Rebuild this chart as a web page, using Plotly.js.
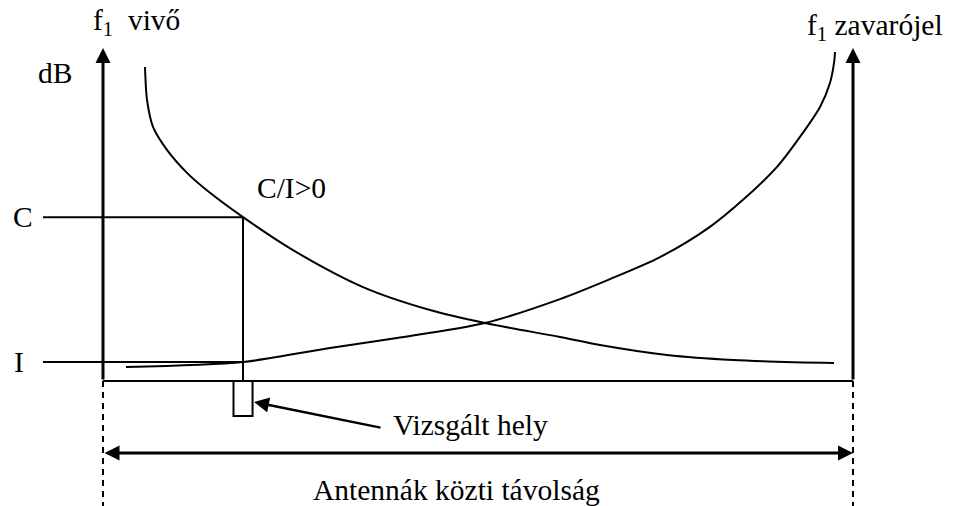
<!DOCTYPE html>
<html>
<head>
<meta charset="utf-8">
<script src="https://cdn.plot.ly/plotly-3.0.1.min.js"></script>
<style>
  html, body { margin: 0; padding: 0; background: #fff; }
  #chart { width: 953px; height: 506px; }
</style>
</head>
<body>
<div id="chart"></div>
<script>
// distance between antennas: 0 .. 100, level in dB: 0 .. 100 (arbitrary units)
const carrierX = [5.6, 5.87, 6.67, 8.53, 11.2, 14.27, 18.67, 25.33, 34.67, 43.6, 50.93, 60.93, 66.27, 75.2, 84.0, 97.47];
const carrierY = [94.3, 84.4, 76.3, 69.4, 62.5, 56.5, 49.2, 39.3, 28.2, 21.3, 17.4, 13.2, 10.8, 7.8, 6.3, 5.4];

const interfX = [3.07, 18.67, 30.27, 39.2, 50.93, 60.93, 67.6, 74.27, 80.93, 85.33, 89.87, 92.93, 95.6, 96.93, 97.47, 97.6];
const interfY = [4.2, 5.7, 9.9, 12.9, 17.4, 24.6, 30.6, 37.2, 46.3, 54.4, 64.3, 73.3, 82.3, 89.5, 95.5, 98.8];

const antennaX = [0, 100];
const axisTop = 100;
const measX = 18.67;   // Vizsgált hely
const levelC = 49.2;
const levelI = 5.7;
const levelStart = -8;
const spanY = -21.6;
const dashBottom = -38;

const black = "#000";
const font = { family: "Liberation Serif, Times New Roman, serif", size: 29.5, color: black };

function line(x, y, width, dash) {
  return {
    type: "scatter", mode: "lines", x: x, y: y, hoverinfo: "skip",
    line: { color: black, width: width, dash: dash || "solid" }
  };
}

function curve(x, y) {
  return {
    type: "scatter", mode: "lines", x: x, y: y, hoverinfo: "skip",
    line: { color: black, width: 2, shape: "spline", smoothing: 0.8 }
  };
}

const data = [
  curve(carrierX, carrierY),
  curve(interfX, interfY),
  // baseline
  line(antennaX, [0, 0], 2),
  // C and I levels at the measured spot
  line([levelStart, measX], [levelC, levelC], 2),
  line([levelStart, measX], [levelI, levelI], 2),
  line([measX, measX], [levelC, 0], 2),
  // dashed antenna positions
  line([antennaX[0], antennaX[0]], [0, dashBottom], 2, "6px,5px"),
  line([antennaX[1], antennaX[1]], [0, dashBottom], 2, "6px,5px")
];

function arrow(x, y, ax, ay, w, side) {
  return {
    x: x, y: y, ax: ax, ay: ay, xref: "x", yref: "y", axref: "x", ayref: "y",
    showarrow: true, arrowhead: 2, arrowsize: 3 / w, arrowwidth: w, arrowcolor: black,
    arrowside: side || "end", startarrowhead: 2, startarrowsize: 3 / w, text: "", standoff: 0, startstandoff: 0
  };
}

function label(text, x, y, anchor) {
  return {
    x: x, y: y, xref: "x", yref: "y", text: text, showarrow: false,
    xanchor: anchor || "left", yanchor: "middle", font: font
  };
}

const annotations = [
  arrow(antennaX[0], axisTop, antennaX[0], 0, 3),
  arrow(antennaX[1], axisTop, antennaX[1], 0, 3),
  arrow(antennaX[1], spanY, antennaX[0], spanY, 3, "end+start"),
  arrow(20.13, -6.3, 37.2, -14.1, 2.5),
  label("f<sub>1</sub>  vivő", -1.6, 107.8),
  label("dB", -9.0, 92.5),
  label("C", -12.3, levelC),
  label("I", -12.2, levelI),
  label("C/I>0", 20.2, 58.0),
  label("f<sub>1</sub> zavarójel", 93.6, 106.3),
  label("Vizsgált hely", 38.4, -13.2),
  label("Antennák közti távolság", 47.1, -32.7, "center")
];

const rectW = 1.27;
const rectH = -10.5;

const layout = {
  width: 953,
  height: 506,
  margin: { l: 0, r: 0, t: 0, b: 0 },
  paper_bgcolor: "#fff",
  plot_bgcolor: "#fff",
  showlegend: false,
  xaxis: { range: [-13.733, 113.333], visible: false, fixedrange: true },
  yaxis: { range: [-37.54, 114.41], visible: false, fixedrange: true },
  shapes: [
    {
      type: "rect", xref: "x", yref: "y",
      x0: measX - rectW, x1: measX + rectW, y0: 0, y1: rectH,
      line: { color: black, width: 2 }, fillcolor: "#fff"
    }
  ],
  annotations: annotations
};

Plotly.newPlot("chart", data, layout, { displayModeBar: false, staticPlot: true });
</script>
</body>
</html>
